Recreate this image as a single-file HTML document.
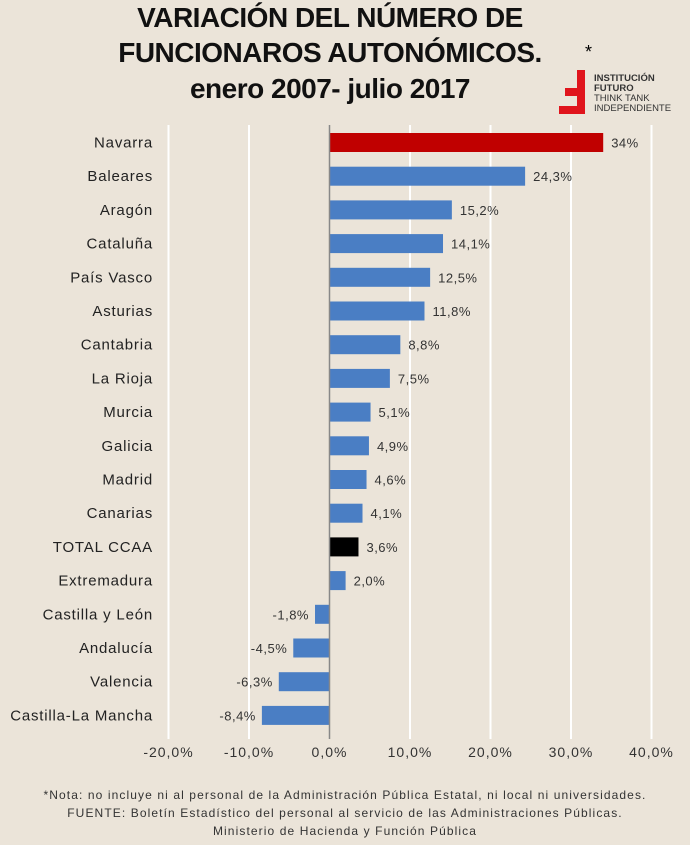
<!DOCTYPE html>
<html><head><meta charset="utf-8"><style>
body{margin:0;width:690px;height:845px;background:#ebe4d9;font-family:"Liberation Sans",sans-serif;overflow:hidden;position:relative}
.t{position:absolute;left:0;width:660px;text-align:center;font-weight:bold;color:#111;font-size:28px;letter-spacing:-0.5px}
.foot{position:absolute;left:0;width:690px;text-align:center;font-size:12px;letter-spacing:1.1px;color:#333}
</style></head><body>
<div class="t" style="top:2px">VARIACIÓN DEL NÚMERO DE</div>
<div class="t" style="top:37px">FUNCIONAROS AUTONÓMICOS.</div>
<div style="position:absolute;left:585px;top:42px;font-size:18px">*</div>
<div class="t" style="top:73px">enero 2007- julio 2017</div>
<div style="position:absolute;left:557px;top:68px">
<svg width="130" height="50"><path d="M20 2h8v44H2v-8h18v-10H8v-8h12z" fill="#e0141c"/>
<text x="37" y="13" font-size="9.5" fill="#333" font-family="Liberation Sans" font-weight="bold">INSTITUCIÓN</text>
<text x="37" y="23" font-size="9.5" fill="#333" font-family="Liberation Sans" font-weight="bold">FUTURO</text>
<text x="37" y="33" font-size="9.5" fill="#333" font-family="Liberation Sans">THINK TANK</text>
<text x="37" y="43" font-size="9.5" fill="#333" font-family="Liberation Sans">INDEPENDIENTE</text></svg></div>
<svg id="c" width="690" height="770" style="position:absolute;left:0;top:0"></svg>
<div class="foot" style="top:788px">*Nota: no incluye ni al personal de la Administración Pública Estatal, ni local ni universidades.</div>
<div class="foot" style="top:806px">FUENTE: Boletín Estadístico del personal al servicio de las Administraciones Públicas.</div>
<div class="foot" style="top:824px">Ministerio de Hacienda y Función Pública</div>
<script>
const categories=["Navarra","Baleares","Aragón","Cataluña","País Vasco","Asturias","Cantabria","La Rioja","Murcia","Galicia","Madrid","Canarias","TOTAL CCAA","Extremadura","Castilla y León","Andalucía","Valencia","Castilla-La Mancha"];
const values=[34,24.3,15.2,14.1,12.5,11.8,8.8,7.5,5.1,4.9,4.6,4.1,3.6,2.0,-1.8,-4.5,-6.3,-8.4];
const valueLabels=["34%","24,3%","15,2%","14,1%","12,5%","11,8%","8,8%","7,5%","5,1%","4,9%","4,6%","4,1%","3,6%","2,0%","-1,8%","-4,5%","-6,3%","-8,4%"];
const ticks=[-20,-10,0,10,20,30,40];
const tickLabels=["-20,0%","-10,0%","0,0%","10,0%","20,0%","30,0%","40,0%"];
const NS="http://www.w3.org/2000/svg",svg=document.getElementById('c');
const x=v=>329.5+v*8.05;
const y=i=>142.5+i*33.7;
function mk(t,a){const e=document.createElementNS(NS,t);for(const k in a)e.setAttribute(k,a[k]);svg.appendChild(e);return e;}
ticks.forEach((t,i)=>{
 if(t!==0){const g=mk('line',{x1:x(t),x2:x(t),y1:125,y2:739,stroke:'#fff','stroke-width':2});
 
 }
 const l=mk('text',{x:x(t),y:757,'text-anchor':'middle','font-size':14,'letter-spacing':1,fill:'#333','font-family':'Liberation Sans'});
 l.textContent=tickLabels[i];
 
 
});
categories.forEach((c,i)=>{
 const v=values[i],col=c==="Navarra"?"#c00000":c==="TOTAL CCAA"?"#000":"#4a7ec4";
 const b=mk('rect',{x:Math.min(x(0),x(v)),y:y(i)-9.5,width:Math.abs(x(v)-x(0)),height:19,fill:col});
 
 
 const lt=mk('text',{x:153,y:y(i)+5,'text-anchor':'end','font-size':15,'letter-spacing':0.8,fill:'#222','font-family':'Liberation Sans'});
 lt.textContent=c;
 
 
 const vt=mk('text',{x:v>=0?x(v)+8:x(v)-6,y:y(i)+5,'text-anchor':v>=0?'start':'end','font-size':13,'letter-spacing':0.5,fill:'#333','font-family':'Liberation Sans'});
 vt.textContent=valueLabels[i];
 
 
});
const ax=mk('line',{x1:x(0),x2:x(0),y1:125,y2:739,stroke:'#888','stroke-width':1.5});


</script>
</body></html>
